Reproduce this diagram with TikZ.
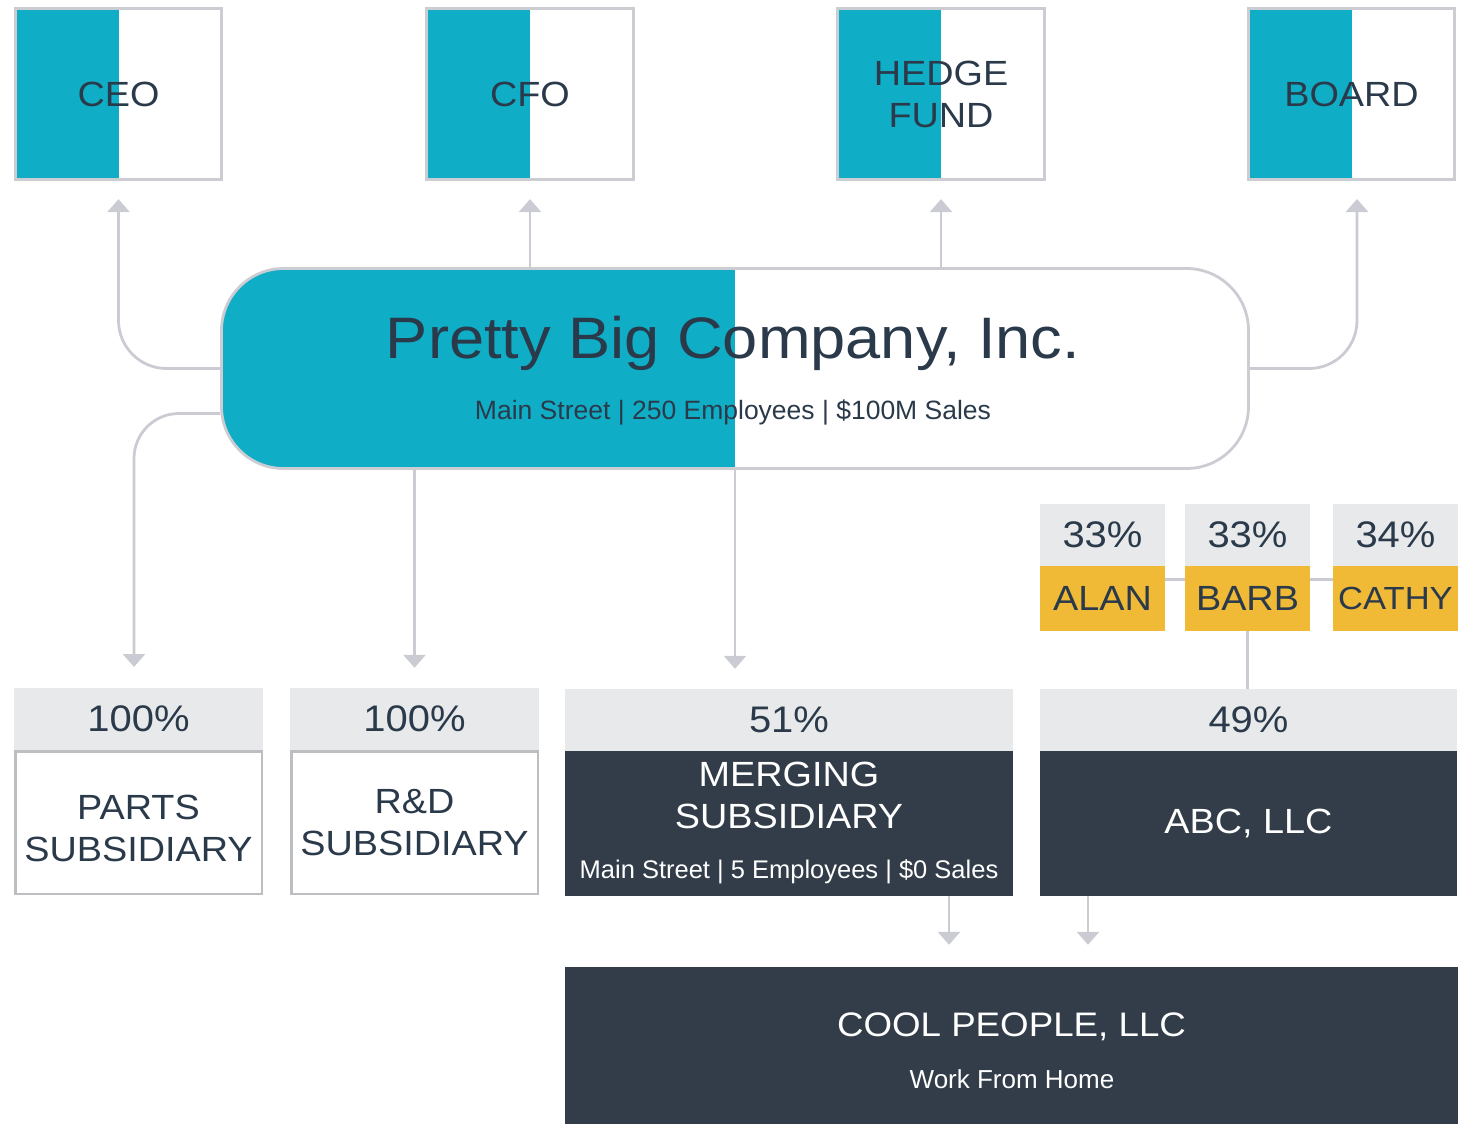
\documentclass[tikz,border=0pt]{standalone}
\usepackage{fontspec}
\setmainfont{Liberation Sans}
\newfontfamily\widefont[FakeStretch=1.08]{Liberation Sans}
\usetikzlibrary{arrows.meta,calc}

\definecolor{brandteal}{HTML}{10AEC6}
\definecolor{framegray}{HTML}{CCCDD3}
\definecolor{linegray}{HTML}{CBCCD3}
\definecolor{bodygray}{HTML}{BDBEC2}
\definecolor{hdrgray}{HTML}{E8E9EB}
\definecolor{slate}{HTML}{323D49}
\definecolor{gold}{HTML}{F0BA36}
\definecolor{ink}{HTML}{2A3A4A}

\begin{document}
\begin{tikzpicture}[x=1pt,y=-1pt,
  lbl/.style={font=\widefont\fontsize{35}{42}\selectfont, align=center, inner sep=0pt},
  topbox/.style={lbl, draw=framegray, line width=2.8pt, fill=white,
    minimum width=206.5pt, minimum height=171.5pt, text=ink,
    path picture={\fill[brandteal, sharp corners] (path picture bounding box.south west)
      rectangle (path picture bounding box.north);}},
  mainbox/.style={draw=framegray, line width=2.8pt, fill=white, rounded corners=62pt,
    minimum width=1027pt, minimum height=200pt, inner sep=0pt,
    path picture={\fill[brandteal, sharp corners] (path picture bounding box.south west)
      rectangle (path picture bounding box.north);}},
  pct/.style={lbl, fill=hdrgray, minimum height=62pt, text=ink,
    font=\widefont\fontsize{37}{40}\selectfont},
  namebox/.style={lbl, fill=gold, minimum width=125pt, minimum height=65pt, text=ink},
  openbody/.style={draw=bodygray, line width=2.5pt, fill=white,
    minimum width=246.5pt, minimum height=142.5pt, inner sep=0pt},
  darkbody/.style={fill=slate, inner sep=0pt},
  facts/.style={font=\fontsize{26}{30}\selectfont, anchor=base, inner sep=0pt},
  conn/.style={draw=linegray, line width=2.8pt, -{Triangle[width=22pt,length=13pt]}},
  link/.style={draw=linegray, line width=2.8pt}]

\useasboundingbox (0,0) rectangle (1465,1124);

% officers and stakeholders
\node[topbox] (ceo) at (118.5,94) {CEO};
\node[topbox] (cfo) at (530,94) {CFO};
\node[topbox] (hedge) at (941,94) {HEDGE\\FUND};
\node[topbox] (board) at (1351.5,94) {BOARD};

% parent company
\node[mainbox] (main) at (735,368.5) {};
\node[font=\widefont\fontsize{58.5}{60}\selectfont, text=ink, anchor=base, inner sep=0pt]
  (title) at (733,358) {Pretty Big Company, Inc.};
\node[facts, font=\fontsize{26.5}{30}\selectfont, text=ink] (mainfacts) at (733,419)
  {Main Street | 250 Employees | \$100M Sales};

% individual owners
\node[pct, minimum width=125pt] (alanpct) at (1102.5,535) {33\%};
\node[namebox] (alan) at (1102.5,598.5) {ALAN};
\node[pct, minimum width=125pt] (barbpct) at (1247.5,535) {33\%};
\node[namebox] (barb) at (1247.5,598.5) {BARB};
\node[pct, minimum width=125pt] (cathypct) at (1395.5,535) {34\%};
\node[namebox, font=\widefont\fontsize{32}{40}\selectfont] (cathy) at (1395.5,598.5) {CATHY};

% subsidiaries
\node[pct, minimum width=249pt] (partspct) at (138.5,719) {100\%};
\node[openbody] (parts) at (138.5,822.5) {};
\node[lbl, text=ink] (partsname) at (138.5,828) {PARTS\\SUBSIDIARY};

\node[pct, minimum width=249pt] (rdpct) at (414.5,719) {100\%};
\node[openbody] (rd) at (414.5,822.5) {};
\node[lbl, text=ink] (rdname) at (414.5,823) {R\&D\\SUBSIDIARY};

\node[pct, minimum width=448pt] (mergepct) at (789,720) {51\%};
\node[darkbody, minimum width=448pt, minimum height=145pt] (merge) at (789,823.5) {};
\node[lbl, text=white] (mergename) at (789,795) {MERGING\\SUBSIDIARY};
\node[facts, font=\fontsize{25.5}{30}\selectfont, text=white] (mergefacts) at (789,878.5)
  {Main Street | 5 Employees | \$0 Sales};

\node[pct, minimum width=417pt] (abcpct) at (1248.5,720) {49\%};
\node[darkbody, minimum width=417pt, minimum height=145pt, lbl, text=white]
  (abc) at (1248.5,823.5) {ABC, LLC};

\node[darkbody, minimum width=893pt, minimum height=157pt] (cool) at (1011.5,1045.5) {};
\node[lbl, font=\widefont\fontsize{34}{40}\selectfont, text=white] (coolname) at (1011.5,1027)
  {COOL PEOPLE, LLC};
\node[facts, text=white] (coolfacts) at (1012,1088) {Work From Home};

% connectors
\coordinate (boardin) at (1357,181);
\coordinate (partsin) at (134,688);
\coordinate (mx) at (949,0);
\coordinate (ax) at (1088,0);

\draw[conn, rounded corners=48pt, shorten >=18pt] (main.west) -| (ceo.south);
\draw[conn, shorten >=18pt] (main.north -| cfo.south) -- (cfo.south);
\draw[conn, shorten >=18pt] (main.north -| hedge.south) -- (hedge.south);
\draw[conn, rounded corners=48pt, shorten >=18pt] (main.east) -| (boardin);

\draw[conn, rounded corners=45pt, shorten >=21pt] ([yshift=-45pt]main.west) -| (partsin);
\draw[conn, shorten >=20pt] (main.south -| rdpct.north) -- (rdpct.north);
\draw[conn, shorten >=20pt] (main.south) -- (main.south |- mergepct.north);

\draw[link] ([yshift=-14pt]alan.north east) -- ([yshift=-14pt]barb.north west);
\draw[link] ([yshift=-14pt]barb.north east) -- ([yshift=-14pt]cathy.north west);
\draw[link] (barb.south) -- (barb.south |- abcpct.north);

\draw[conn, shorten >=22pt] (merge.south -| mx) -- (mx |- cool.north);
\draw[conn, shorten >=22pt] (abc.south -| ax) -- (ax |- cool.north);

\end{tikzpicture}
\end{document}
